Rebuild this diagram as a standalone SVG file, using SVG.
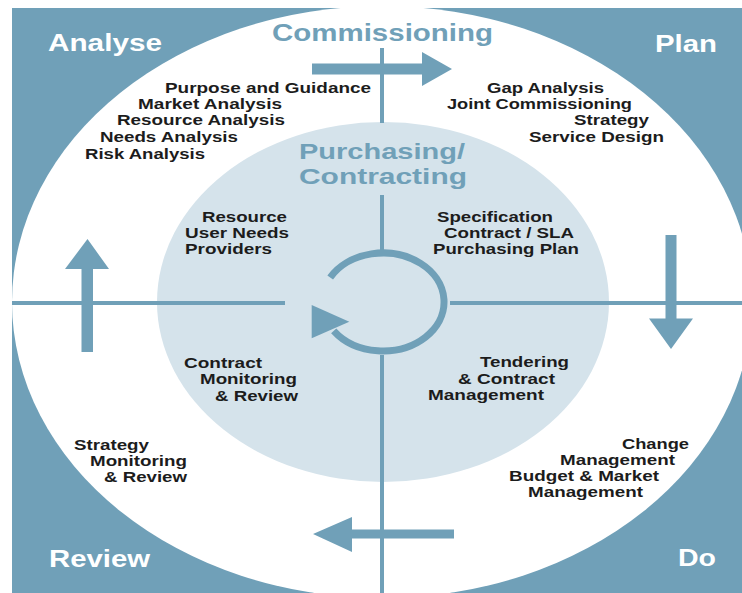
<svg xmlns="http://www.w3.org/2000/svg" width="742" height="593" viewBox="0 0 742 593">
  <style>
    .teal { fill: #70a0b8; }
    .axis { stroke: #70a0b8; stroke-width: 4; fill: none; }
    .t { font-family: "Liberation Sans", Arial, sans-serif; font-weight: bold; font-size: 15px; fill: #1c1c1c; }
    .corner { font-family: "Liberation Sans", Arial, sans-serif; font-weight: bold; font-size: 24px; fill: #ffffff; }
    .head { font-family: "Liberation Sans", Arial, sans-serif; font-weight: bold; font-size: 24px; fill: #70a0b8; }
    .sub { font-family: "Liberation Sans", Arial, sans-serif; font-weight: bold; font-size: 21.5px; fill: #70a0b8; }
  </style>

  <!-- backdrop: teal panel, white outer ring, light inner disc -->
  <g id="backdrop">
    <rect x="0" y="0" width="742" height="593" fill="#ffffff"/>
    <rect class="teal" x="12" y="8" width="730" height="585"/>
    <ellipse cx="382" cy="302" rx="370" ry="296" fill="#ffffff"/>
    <ellipse cx="383" cy="302" rx="226" ry="180" fill="#d5e3eb"/>
  </g>

  <!-- axes, cycle arrows and central loop -->
  <g id="connectors">
    <line class="axis" x1="12" y1="303" x2="285" y2="303"/>
    <line class="axis" x1="450" y1="303" x2="742" y2="303"/>
    <line class="axis" x1="382" y1="48" x2="382" y2="123"/>
    <line class="axis" x1="382" y1="195" x2="382" y2="250"/>
    <line class="axis" x1="382" y1="355" x2="382" y2="593"/>

    <!-- Analyse to Plan -->
    <polygon class="teal" points="312,63.5 422,63.5 422,52 452,69 422,86 422,74.5 312,74.5"/>
    <!-- Plan to Do -->
    <polygon class="teal" points="665.5,235 676.5,235 676.5,318.5 693,318.5 671,349 649,318.5 665.5,318.5"/>
    <!-- Do to Review -->
    <polygon class="teal" points="454,529.5 454,538.5 352,538.5 352,552 313,534 352,517 352,529.5"/>
    <!-- Review to Analyse -->
    <polygon class="teal" points="81.5,352 93,352 93,269 109,269 87.5,239 65,269 81.5,269"/>

    <!-- central loop -->
    <path d="M330.2,277.5 A61,49 0 1,1 333.7,330.8" fill="none" stroke="#70a0b8" stroke-width="7"/>
    <polygon class="teal" points="311.7,305 311.7,338.3 349.3,321.7"/>
  </g>

  <g id="commissioning">
    <text class="head" x="272" y="41" textLength="221" lengthAdjust="spacingAndGlyphs">Commissioning</text>
  </g>

  <g id="purchasing">
    <text class="sub"><tspan x="299" y="158.5" textLength="166" lengthAdjust="spacingAndGlyphs">Purchasing/</tspan><tspan x="299" y="183.5" textLength="168" lengthAdjust="spacingAndGlyphs">Contracting</tspan></text>
  </g>

  <g id="analyse">
    <text class="corner" x="48" y="51" textLength="114" lengthAdjust="spacingAndGlyphs">Analyse</text>
    <text class="t" x="165" y="92.5" textLength="206" lengthAdjust="spacingAndGlyphs">Purpose and Guidance</text>
    <text class="t" x="138" y="108.5" textLength="144" lengthAdjust="spacingAndGlyphs">Market Analysis</text>
    <text class="t" x="117" y="125" textLength="168" lengthAdjust="spacingAndGlyphs">Resource Analysis</text>
    <text class="t" x="100" y="142" textLength="138" lengthAdjust="spacingAndGlyphs">Needs Analysis</text>
    <text class="t" x="85" y="158.5" textLength="120" lengthAdjust="spacingAndGlyphs">Risk Analysis</text>
  </g>

  <g id="plan">
    <text class="corner" x="655" y="52" textLength="62" lengthAdjust="spacingAndGlyphs">Plan</text>
    <text class="t" x="487" y="92.5" textLength="117" lengthAdjust="spacingAndGlyphs">Gap Analysis</text>
    <text class="t" x="447" y="108.5" textLength="185" lengthAdjust="spacingAndGlyphs">Joint Commissioning</text>
    <text class="t" x="574" y="125" textLength="75" lengthAdjust="spacingAndGlyphs">Strategy</text>
    <text class="t" x="529" y="141.5" textLength="135" lengthAdjust="spacingAndGlyphs">Service Design</text>
  </g>

  <g id="do">
    <text class="corner" x="678" y="566" textLength="38" lengthAdjust="spacingAndGlyphs">Do</text>
    <text class="t" x="622" y="449" textLength="67" lengthAdjust="spacingAndGlyphs">Change</text>
    <text class="t" x="560" y="465" textLength="115" lengthAdjust="spacingAndGlyphs">Management</text>
    <text class="t" x="509" y="481" textLength="150" lengthAdjust="spacingAndGlyphs">Budget &amp; Market</text>
    <text class="t" x="528" y="497" textLength="115" lengthAdjust="spacingAndGlyphs">Management</text>
  </g>

  <g id="review">
    <text class="corner" x="49" y="567" textLength="101" lengthAdjust="spacingAndGlyphs">Review</text>
    <text class="t" x="74" y="450" textLength="75" lengthAdjust="spacingAndGlyphs">Strategy</text>
    <text class="t" x="90" y="465.5" textLength="97" lengthAdjust="spacingAndGlyphs">Monitoring</text>
    <text class="t" x="104" y="481.5" textLength="83" lengthAdjust="spacingAndGlyphs">&amp; Review</text>
  </g>

  <g id="inner-analyse">
    <text class="t" x="202" y="222" textLength="85" lengthAdjust="spacingAndGlyphs">Resource</text>
    <text class="t" x="185" y="238" textLength="104" lengthAdjust="spacingAndGlyphs">User Needs</text>
    <text class="t" x="185" y="254" textLength="87" lengthAdjust="spacingAndGlyphs">Providers</text>
  </g>

  <g id="inner-plan">
    <text class="t" x="437" y="222" textLength="116" lengthAdjust="spacingAndGlyphs">Specification</text>
    <text class="t" x="444" y="238" textLength="130" lengthAdjust="spacingAndGlyphs">Contract / SLA</text>
    <text class="t" x="433" y="254" textLength="146" lengthAdjust="spacingAndGlyphs">Purchasing Plan</text>
  </g>

  <g id="inner-do">
    <text class="t" x="480" y="367" textLength="89" lengthAdjust="spacingAndGlyphs">Tendering</text>
    <text class="t" x="458" y="383.5" textLength="97" lengthAdjust="spacingAndGlyphs">&amp; Contract</text>
    <text class="t" x="428" y="400" textLength="116" lengthAdjust="spacingAndGlyphs">Management</text>
  </g>

  <g id="inner-review">
    <text class="t" x="184" y="368" textLength="78" lengthAdjust="spacingAndGlyphs">Contract</text>
    <text class="t" x="200" y="384" textLength="97" lengthAdjust="spacingAndGlyphs">Monitoring</text>
    <text class="t" x="215" y="400.5" textLength="83" lengthAdjust="spacingAndGlyphs">&amp; Review</text>
  </g>
</svg>
